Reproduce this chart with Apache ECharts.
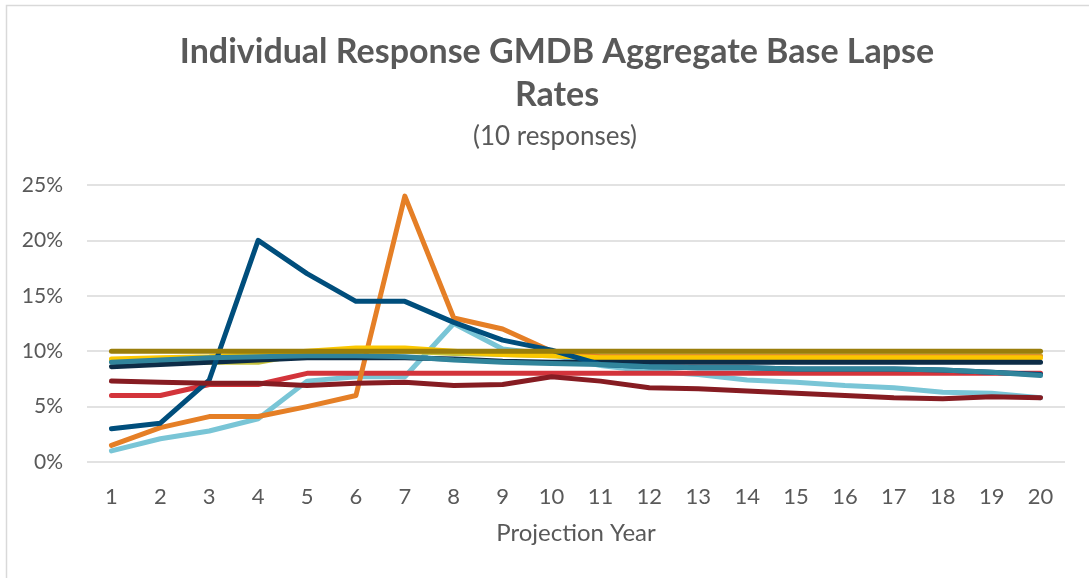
<!DOCTYPE html>
<html>
<head>
<meta charset="utf-8">
<script src="https://cdn.jsdelivr.net/npm/echarts@6/dist/echarts.min.js"></script>
<style>
  html, body { margin: 0; padding: 0; background: #fff; }
  #chart { width: 1089px; height: 578px; }
</style>
</head>
<body>
<div id="chart"></div>
<script>
// projection years 1..20
const years = ['1','2','3','4','5','6','7','8','9','10','11','12','13','14','15','16','17','18','19','20'];

// lapse rates in %
const lightBlue  = [1.0, 2.1, 2.8, 3.9, 7.3, 7.7, 7.7, 12.5, 10.2, 9.7, 8.7, 8.2, 7.9, 7.4, 7.2, 6.9, 6.7, 6.3, 6.2, 5.8];
const red        = [6.0, 6.0, 7.0, 7.0, 8.0, 8.0, 8.0, 8.0, 8.0, 8.0, 8.0, 8.0, 8.0, 8.0, 8.0, 8.0, 8.0, 8.0, 8.0, 8.0];
const yellowGreen= [9.2, 9.0, 9.0, 9.0, 9.8, 10.0, 10.0, 9.8, 9.7, 9.6, 9.6, 9.6, 9.6, 9.6, 9.6, 9.6, 9.6, 9.6, 9.6, 9.6];
const orange     = [1.5, 3.1, 4.1, 4.1, 5.0, 6.0, 24.0, 13.0, 12.0, 10.0, 9.5, 9.5, 9.5, 9.5, 9.5, 9.5, 9.5, 9.5, 9.5, 9.5];
const yellow     = [9.3, 9.4, 9.5, 9.7, 10.0, 10.3, 10.3, 10.0, 9.7, 9.6, 9.4, 9.4, 9.4, 9.4, 9.4, 9.4, 9.4, 9.4, 9.4, 9.4];
const navy       = [8.6, 8.8, 9.0, 9.2, 9.4, 9.4, 9.4, 9.3, 9.1, 9.0, 9.0, 9.0, 9.0, 9.0, 9.0, 9.0, 9.0, 9.0, 9.0, 9.0];
const darkBlue   = [3.0, 3.5, 7.4, 20.0, 17.0, 14.5, 14.5, 12.6, 11.0, 10.1, 8.8, 8.6, 8.5, 8.5, 8.4, 8.4, 8.4, 8.3, 8.1, 7.9];
const teal       = [9.0, 9.2, 9.4, 9.5, 9.6, 9.6, 9.5, 9.2, 9.0, 8.9, 8.8, 8.6, 8.5, 8.5, 8.4, 8.4, 8.4, 8.3, 8.1, 7.8];
const maroon     = [7.3, 7.2, 7.1, 7.1, 6.9, 7.1, 7.2, 6.9, 7.0, 7.7, 7.3, 6.7, 6.6, 6.4, 6.2, 6.0, 5.8, 5.7, 5.9, 5.8];
const olive      = [10, 10, 10, 10, 10, 10, 10, 10, 10, 10, 10, 10, 10, 10, 10, 10, 10, 10, 10, 10];

// y axis ticks
const yTicks = [0, 5, 10, 15, 20, 25];

const FONT = 'Lato';
const GREY = '#595959';

// drawing order: first = bottom
const seriesList = [
  { name: 'Light blue',   data: lightBlue,   color: '#79c5d6' },
  { name: 'Red',          data: red,         color: '#d3343b' },
  { name: 'Yellow green', data: yellowGreen, color: '#c6c23c' },
  { name: 'Orange',       data: orange,      color: '#e57f26' },
  { name: 'Yellow',       data: yellow,      color: '#fbc700' },
  { name: 'Navy',         data: navy,        color: '#0d2c47' },
  { name: 'Dark blue',    data: darkBlue,    color: '#004e7c' },
  { name: 'Teal',         data: teal,        color: '#31849b' },
  { name: 'Maroon',       data: maroon,      color: '#861c22' },
  { name: 'Olive',        data: olive,       color: '#9a7e0b' }
];

const chart = echarts.init(document.getElementById('chart'), null, { renderer: 'canvas' });

chart.setOption({
  animation: false,
  backgroundColor: '#fff',
  graphic: [
    {
      type: 'rect',
      shape: { x: 6.5, y: 5.5, width: 1200, height: 700 },
      style: { fill: 'none', stroke: '#d9d9d9', lineWidth: 1.5 },
      silent: true
    }
  ],
  title: [
    {
      text: 'Individual Response GMDB Aggregate Base Lapse\nRates',
      left: 552,
      top: 26,
      textAlign: 'center',
      textStyle: {
        fontFamily: FONT,
        fontSize: 34,
        fontWeight: 'bold',
        color: GREY,
        lineHeight: 43
      }
    },
    {
      text: '(10 responses)',
      left: 550,
      top: 119,
      textAlign: 'center',
      textStyle: {
        fontFamily: FONT,
        fontSize: 26,
        fontWeight: 'normal',
        color: GREY
      }
    }
  ],
  grid: { left: 87, right: 24, top: 185, bottom: 116, containLabel: false },
  xAxis: {
    type: 'category',
    data: years,
    boundaryGap: true,
    name: 'Projection Year',
    nameLocation: 'middle',
    nameGap: 59,
    nameTextStyle: { fontFamily: FONT, fontSize: 24, color: GREY },
    axisLine: { show: false },
    axisTick: { show: false },
    axisLabel: { fontFamily: FONT, fontSize: 22, color: GREY, margin: 24 }
  },
  yAxis: {
    type: 'value',
    min: yTicks[0],
    max: yTicks[yTicks.length - 1],
    interval: 5,
    axisLine: { show: false },
    axisTick: { show: false },
    axisLabel: { fontFamily: FONT, fontSize: 21, color: GREY, margin: 24, formatter: '{value}%' },
    splitLine: { lineStyle: { color: '#d9d9d9', width: 1.5 } }
  },
  series: seriesList.map((s, i) => ({
    name: s.name,
    type: 'line',
    data: s.data,
    z: 2 + i,
    symbol: 'none',
    smooth: false,
    lineStyle: { color: s.color, width: 5, cap: 'round', join: 'round' },
    itemStyle: { color: s.color }
  }))
});
</script>
</body>
</html>
